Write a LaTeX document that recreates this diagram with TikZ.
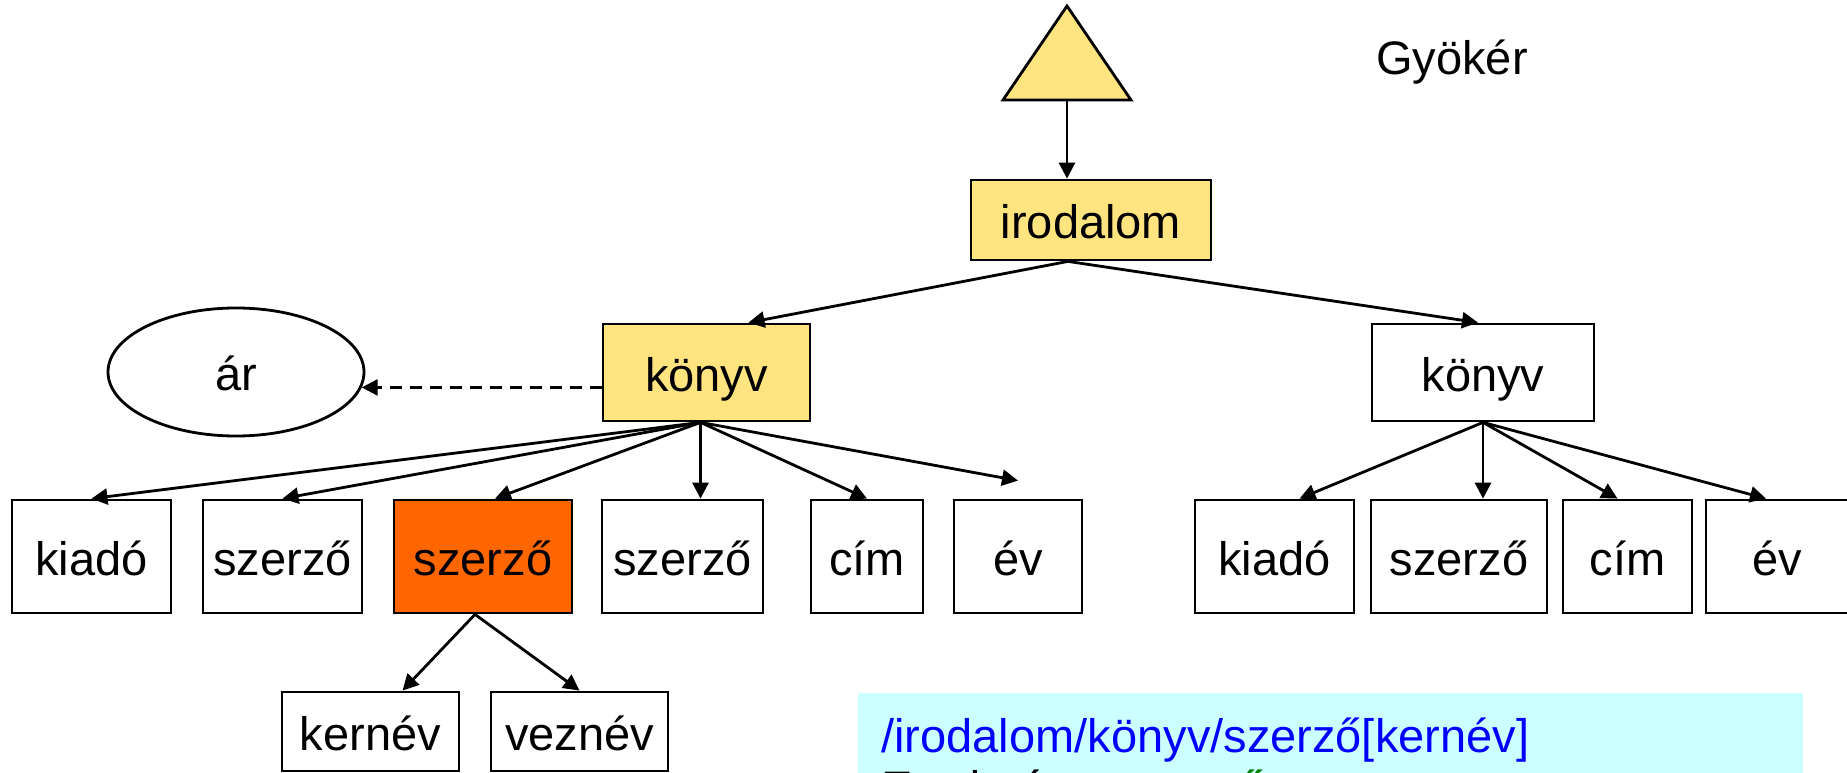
\documentclass[tikz,border=0pt]{standalone}
\usepackage{fontspec}
\setmainfont{Liberation Sans}
\usetikzlibrary{arrows.meta,shapes.geometric}

\definecolor{sarga}{RGB}{255,228,128}
\definecolor{narancs}{RGB}{255,102,0}
\definecolor{hatter}{RGB}{204,255,255}
\definecolor{zold}{RGB}{0,128,0}

\begin{document}
\begin{tikzpicture}[x=1pt,y=-1pt,->,>={Triangle[length=16pt,width=16pt]},line width=2.8pt,
                    felirat/.style={font=\fontsize{47pt}{56pt}\selectfont,text height=47pt,text depth=10pt,inner sep=0pt},
                    elem/.style={felirat,draw,rectangle,minimum height=113pt},
                    utvonal/.style={anchor=base west,inner sep=0pt,font=\fontsize{47pt}{56pt}\selectfont}]
  \useasboundingbox (0,0) rectangle (1847,773);
  \clip (0,0) rectangle (1847,773);

  \draw[-,fill=sarga] (1067,6) -- (1131,100) -- (1003,100) -- cycle;
  \coordinate (gyoker) at (1067,100);
  \node[felirat,text height=,text depth=,anchor=base] (gyokerfelirat) at (1452,75) {Gyökér};

  \node[elem,fill=sarga,minimum width=240pt,minimum height=80pt] (irodalom) at (1091,220) {irodalom};
  \node[elem,fill=sarga,minimum width=207pt,minimum height=97pt] (konyv1) at (706.5,372.5) {könyv};
  \node[elem,minimum width=222pt,minimum height=97pt] (konyv2) at (1483,372.5) {könyv};
  \node[felirat,draw,ellipse,minimum width=256pt,minimum height=128pt] (ar) at (236,372) {ár};

  \node[elem,minimum width=159pt] (kiado1) at (91.5,556.5) {kiadó};
  \node[elem,minimum width=159pt] (szerzo1) at (282.5,556.5) {szerző};
  \node[elem,fill=narancs,minimum width=178pt] (szerzo2) at (483,556.5) {szerző};
  \node[elem,minimum width=161pt] (szerzo3) at (682.5,556.5) {szerző};
  \node[elem,minimum width=112pt] (cim1) at (867,556.5) {cím};
  \node[elem,minimum width=128pt] (ev1) at (1018,556.5) {év};

  \node[elem,minimum width=159pt] (kiado2) at (1274.5,556.5) {kiadó};
  \node[elem,minimum width=176pt] (szerzo4) at (1459,556.5) {szerző};
  \node[elem,minimum width=129pt] (cim2) at (1627.5,556.5) {cím};
  \node[elem,minimum width=142pt] (ev2) at (1777,556.5) {év};

  \node[elem,minimum width=177pt,minimum height=79pt] (kernev) at (370.5,731.5) {kernév};
  \node[elem,minimum width=177pt,minimum height=79pt] (veznev) at (579.5,731.5) {veznév};

  \fill[hatter] (858,693) rectangle (1803,800);
  \node[utvonal,text=blue] (xpath) at (880,752) {/irodalom/könyv/szerző[kernév]};
  \node[utvonal] (talalat) at (880,804) {Eredmény: \textcolor{zold}{szerző}};

  \coordinate (ir) at ([xshift=-23pt]irodalom.south);
  \coordinate (k1) at ([xshift=-6pt]konyv1.south);
  \coordinate (sz) at ([xshift=-8pt]szerzo2.south);

  \draw (gyoker) -- (gyoker |- irodalom.north);
  \path (ir) edge ([xshift=42pt]konyv1.north)
             edge ([xshift=-5pt]konyv2.north);
  \draw[dashed,dash pattern=on 12pt off 8pt] (konyv1.west |- ar.-7.4) -- (ar.-7.4);
  \path (k1) edge (kiado1.north)
             edge (szerzo1.north)
             edge ([xshift=12pt]szerzo2.north)
             edge (k1 |- szerzo3.north)
             edge (cim1.north)
             edge ([yshift=18pt]ev1.north);
  \path (konyv2.south) edge ([xshift=25pt]kiado2.north)
             edge (konyv2.south |- szerzo4.north)
             edge ([xshift=-10pt]cim2.north)
             edge ([xshift=-11pt]ev2.north);
  \path (sz) edge ([xshift=32pt]kernev.north)
             edge (veznev.north);
\end{tikzpicture}
\end{document}
